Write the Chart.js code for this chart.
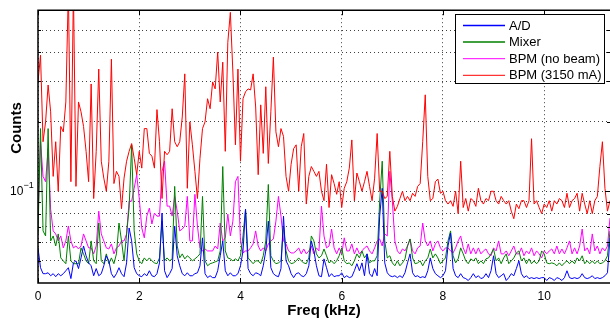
<!DOCTYPE html>
<html><head><meta charset="utf-8">
<script src="https://cdn.jsdelivr.net/npm/chart.js@4.4.1/dist/chart.umd.min.js"></script>
<style>html,body{margin:0;padding:0;background:#fff}#c{display:block}</style>
</head><body>
<canvas id="c" width="610" height="321"></canvas>
<script>
const freqKHz = [
0,0.05,0.1,0.15,0.2,0.25,0.3,0.35,0.4,0.45,
0.5,0.55,0.6,0.65,0.7,0.75,0.8,0.85,0.9,0.95,
1,1.05,1.1,1.15,1.2,1.25,1.3,1.35,1.4,1.45,
1.5,1.55,1.6,1.65,1.7,1.75,1.8,1.85,1.9,1.95,
2,2.05,2.1,2.15,2.2,2.25,2.3,2.35,2.4,2.45,
2.5,2.55,2.6,2.65,2.7,2.75,2.8,2.85,2.9,2.95,
3,3.05,3.1,3.15,3.2,3.25,3.3,3.35,3.4,3.45,
3.5,3.55,3.6,3.65,3.7,3.75,3.8,3.85,3.9,3.95,
4,4.05,4.1,4.15,4.2,4.25,4.3,4.35,4.4,4.45,
4.5,4.55,4.6,4.65,4.7,4.75,4.8,4.85,4.9,4.95,
5,5.05,5.1,5.15,5.2,5.25,5.3,5.35,5.4,5.45,
5.5,5.55,5.6,5.65,5.7,5.75,5.8,5.85,5.9,5.95,
6,6.05,6.1,6.15,6.2,6.25,6.3,6.35,6.4,6.45,
6.5,6.55,6.6,6.65,6.7,6.75,6.8,6.85,6.9,6.95,
7,7.05,7.1,7.15,7.2,7.25,7.3,7.35,7.4,7.45,
7.5,7.55,7.6,7.65,7.7,7.75,7.8,7.85,7.9,7.95,
8,8.05,8.1,8.15,8.2,8.25,8.3,8.35,8.4,8.45,
8.5,8.55,8.6,8.65,8.7,8.75,8.8,8.85,8.9,8.95,
9,9.05,9.1,9.15,9.2,9.25,9.3,9.35,9.4,9.45,
9.5,9.55,9.6,9.65,9.7,9.75,9.8,9.85,9.9,9.95,
10,10.05,10.1,10.15,10.2,10.25,10.3,10.35,10.4,10.45,
10.5,10.55,10.6,10.65,10.7,10.75,10.8,10.85,10.9,10.95,
11,11.05,11.1,11.15,11.2,11.25,11.3
];

const adCounts = [
0.0568,0.0466,0.0439,0.0439,0.0443,0.043,0.0439,0.0426,0.0439,0.043,
0.0439,0.0452,0.0466,0.0418,0.0489,0.0499,0.0462,0.0514,0.0579,0.0525,
0.0489,0.0475,0.043,0.0462,0.043,0.0439,0.0475,0.0525,0.0499,0.0439,
0.0422,0.0439,0.0466,0.0439,0.0426,0.0489,0.0693,0.0609,0.0466,0.0439,
0.043,0.0426,0.0439,0.043,0.0452,0.043,0.0426,0.0439,0.0489,0.0804,
0.0452,0.0422,0.0439,0.0462,0.0707,0.0525,0.0475,0.0439,0.043,0.0443,
0.043,0.043,0.0439,0.0443,0.0475,0.0628,0.0439,0.0422,0.043,0.0422,
0.0422,0.0452,0.0525,0.0609,0.0452,0.043,0.0443,0.043,0.043,0.0439,
0.0475,0.0551,0.0836,0.0462,0.0439,0.043,0.0443,0.0439,0.043,0.0475,
0.0551,0.0742,0.0466,0.0439,0.043,0.0426,0.0462,0.078,0.0499,0.0475,
0.0439,0.0422,0.0439,0.0443,0.043,0.0426,0.0439,0.0475,0.0609,0.0551,
0.0475,0.043,0.0426,0.0509,0.0466,0.0426,0.0439,0.0426,0.043,0.043,
0.0443,0.0422,0.043,0.0422,0.0426,0.0452,0.0485,0.0452,0.0489,0.043,
0.0535,0.0439,0.0426,0.0462,0.043,0.078,0.103,0.0489,0.0443,0.043,
0.0426,0.043,0.0422,0.043,0.0422,0.0443,0.0489,0.0535,0.0443,0.0426,
0.043,0.0422,0.0426,0.0422,0.0452,0.0514,0.0462,0.0439,0.043,0.0422,
0.043,0.0452,0.0579,0.0659,0.0462,0.043,0.0422,0.0439,0.0422,0.0418,
0.041,0.0422,0.0439,0.0422,0.043,0.0418,0.0422,0.0439,0.0422,0.0452,
0.0525,0.0439,0.0422,0.043,0.0439,0.041,0.0422,0.0439,0.043,0.0462,
0.0499,0.0439,0.0422,0.043,0.0418,0.0422,0.0418,0.0422,0.0418,0.0422,
0.0422,0.041,0.0422,0.0418,0.041,0.0422,0.0418,0.041,0.0422,0.0452,
0.0422,0.0418,0.0422,0.0418,0.0422,0.0439,0.0422,0.0418,0.0422,0.043,
0.0418,0.0422,0.0418,0.0422,0.043,0.0443,0.0628
];

const mixerCounts = [
0.0653,0.187,0.0673,0.064,0.187,0.0609,0.064,0.0579,0.0653,0.0514,
0.0499,0.0485,0.064,0.0499,0.0485,0.0485,0.0485,0.0568,0.0535,0.0499,
0.0485,0.0609,0.0499,0.0485,0.0728,0.0499,0.0485,0.0535,0.0485,0.0514,
0.0485,0.0535,0.0728,0.0609,0.0499,0.0653,0.0845,0.159,0.0673,0.0535,
0.0499,0.0485,0.0514,0.0499,0.0514,0.0499,0.0489,0.0485,0.0514,0.0742,
0.0499,0.0514,0.0499,0.0509,0.105,0.0579,0.0514,0.0535,0.0509,0.0525,
0.0514,0.0499,0.0509,0.052,0.0535,0.095,0.0499,0.0475,0.0485,0.0489,
0.0494,0.0499,0.0551,0.128,0.0551,0.0514,0.0509,0.0499,0.0509,0.0499,
0.0525,0.064,0.0836,0.0514,0.0499,0.0485,0.0499,0.0499,0.0485,0.0525,
0.0609,0.107,0.0525,0.0499,0.0485,0.0489,0.0499,0.0707,0.0551,0.0499,
0.0485,0.0489,0.0499,0.0514,0.0499,0.0489,0.0485,0.0514,0.064,0.0609,
0.0535,0.0514,0.0525,0.0562,0.0525,0.0489,0.0499,0.0485,0.0499,0.0525,
0.0568,0.0499,0.0485,0.0489,0.0475,0.0499,0.0535,0.0514,0.0551,0.0514,
0.0535,0.0489,0.0499,0.0499,0.0525,0.0906,0.135,0.0609,0.0514,0.0525,
0.0489,0.0475,0.0499,0.0475,0.0489,0.0509,0.0579,0.0621,0.0514,0.0485,
0.0489,0.0499,0.0475,0.0499,0.0514,0.0562,0.0514,0.0535,0.0514,0.0485,
0.0499,0.0514,0.0609,0.0673,0.0525,0.0489,0.0509,0.0568,0.0535,0.0499,
0.0485,0.0509,0.0499,0.0514,0.0485,0.0499,0.0485,0.0509,0.0514,0.0535,
0.0562,0.0499,0.0514,0.0485,0.0514,0.0535,0.0485,0.0499,0.0514,0.054,
0.0551,0.0499,0.0514,0.0485,0.0509,0.0485,0.0499,0.0485,0.0499,0.0551,
0.0535,0.0489,0.0485,0.0489,0.0485,0.0475,0.0489,0.0475,0.0489,0.0499,
0.0485,0.0499,0.0485,0.0514,0.0499,0.0525,0.0485,0.0499,0.0485,0.0499,
0.0485,0.0499,0.0485,0.0489,0.0499,0.0525,0.0673
];

const bpmNoBeamCounts = [
0.078,0.164,0.116,0.110,0.153,0.0836,0.0673,0.0653,0.0609,0.064,
0.0568,0.0609,0.0707,0.0609,0.0568,0.0579,0.0562,0.0579,0.0653,0.0609,
0.0568,0.0568,0.0535,0.0579,0.082,0.0653,0.0609,0.0568,0.0562,0.0591,
0.0535,0.0568,0.0579,0.0609,0.0609,0.0653,0.0906,0.0906,0.103,0.118,
0.093,0.0693,0.0628,0.078,0.0845,0.0721,0.0804,0.078,0.078,0.122,
0.135,0.0862,0.0862,0.078,0.095,0.082,0.0673,0.0686,0.0707,0.095,
0.0609,0.0609,0.097,0.0707,0.0568,0.0551,0.0562,0.0551,0.0551,0.0551,
0.0579,0.0562,0.0728,0.0609,0.0628,0.0796,0.064,0.0742,0.110,0.116,
0.0609,0.054,0.0551,0.0551,0.0568,0.0591,0.0673,0.0579,0.0551,0.0568,
0.0551,0.0591,0.0609,0.0621,0.0742,0.095,0.078,0.0609,0.0591,0.0551,
0.054,0.054,0.0551,0.0568,0.0535,0.0562,0.0535,0.0551,0.0579,0.0535,
0.0568,0.0551,0.0862,0.064,0.0568,0.0579,0.0686,0.0568,0.0535,0.0568,
0.0535,0.0628,0.0551,0.0551,0.0591,0.0535,0.0568,0.0535,0.0551,0.0568,
0.0579,0.0551,0.0535,0.0568,0.0609,0.0621,0.0579,0.0653,0.064,0.122,
0.0906,0.0609,0.0551,0.0535,0.0562,0.0551,0.0579,0.0621,0.0551,0.0535,
0.0568,0.0579,0.0728,0.0609,0.0579,0.0609,0.0551,0.0591,0.0609,0.0568,
0.0551,0.0568,0.0568,0.0551,0.054,0.0568,0.0609,0.064,0.0568,0.0535,
0.0591,0.0535,0.0568,0.0535,0.0568,0.0535,0.0551,0.0562,0.0535,0.0525,
0.0568,0.0551,0.0609,0.0535,0.0535,0.0551,0.0525,0.0551,0.0579,0.0535,
0.0535,0.0568,0.0525,0.0551,0.0535,0.0568,0.0525,0.0551,0.0535,0.0514,
0.0551,0.0535,0.0551,0.0562,0.0535,0.0579,0.0535,0.0562,0.0535,0.0568,
0.0609,0.0535,0.0568,0.0535,0.0579,0.0686,0.0551,0.0568,0.0535,0.0653,
0.0551,0.0579,0.0535,0.0568,0.0551,0.0579,0.0765
];

const bpm3150Counts = [
0.298,0.389,0.164,0.200,0.289,0.221,0.116,0.164,0.100,0.191,
0.181,0.244,0.75,0.110,0.75,0.105,0.244,0.221,0.191,0.149,
0.110,0.292,0.093,0.149,0.339,0.135,0.114,0.100,0.135,0.374,
0.108,0.122,0.116,0.084,0.114,0.135,0.149,0.161,0.139,0.118,
0.149,0.126,0.187,0.187,0.146,0.142,0.126,0.226,0.164,0.093,
0.149,0.144,0.149,0.228,0.164,0.156,0.164,0.210,0.323,0.103,
0.200,0.159,0.122,0.093,0.139,0.187,0.200,0.252,0.228,0.298,
0.278,0.401,0.244,0.363,0.149,0.443,0.597,0.329,0.159,0.339,
0.135,0.252,0.270,0.278,0.275,0.323,0.232,0.118,0.237,0.146,
0.284,0.132,0.221,0.382,0.181,0.156,0.187,0.173,0.116,0.100,
0.131,0.153,0.159,0.100,0.156,0.178,0.088,0.116,0.128,0.122,
0.116,0.122,0.100,0.091,0.131,0.085,0.118,0.108,0.097,0.110,
0.085,0.103,0.110,0.126,0.167,0.091,0.120,0.110,0.100,0.110,
0.122,0.105,0.091,0.114,0.178,0.100,0.100,0.093,0.095,0.149,
0.095,0.082,0.086,0.093,0.100,0.091,0.095,0.091,0.098,0.095,
0.105,0.108,0.164,0.262,0.116,0.091,0.093,0.110,0.113,0.098,
0.100,0.091,0.088,0.091,0.086,0.100,0.080,0.135,0.085,0.093,
0.082,0.093,0.091,0.086,0.103,0.091,0.088,0.093,0.091,0.100,
0.100,0.091,0.088,0.095,0.091,0.088,0.091,0.082,0.076,0.088,
0.084,0.091,0.091,0.085,0.091,0.169,0.088,0.091,0.085,0.080,
0.088,0.085,0.091,0.082,0.091,0.088,0.093,0.091,0.085,0.098,
0.085,0.091,0.093,0.098,0.082,0.098,0.088,0.080,0.091,0.080,
0.091,0.095,0.128,0.164,0.103,0.082,0.091
];

const seriesNames = ['A/D', 'Mixer', 'BPM (no beam)', 'BPM (3150 mA)'];
const xTickValues = [0, 2, 4, 6, 8, 10];
const yGridValues = [0.05, 0.06, 0.07, 0.08, 0.09, 0.1, 0.2, 0.3, 0.4, 0.5];
const yLabelValue = 0.1;
const yLabelBase = '10';
const yLabelExp = '\u22121';
const xAxisTitle = 'Freq (kHz)';
const yAxisTitle = 'Counts';

const FONT = "'Liberation Sans', Arial, Helvetica, sans-serif";
Chart.defaults.font.family = FONT;
Chart.defaults.color = '#000';

function pts(vals) { return freqKHz.map((f, i) => ({ x: f, y: vals[i] })); }

const colors = ['#0000ff', '#008000', '#ff00ff', '#ff0000'];
const seriesVals = [adCounts, mixerCounts, bpmNoBeamCounts, bpm3150Counts];
const drawOrder = [2, 3, 4, 1];

const matlabPlugin = {
  id: 'matlabFrame',
  afterDatasetsDraw(chart) {
    const { ctx, chartArea: a, scales: { x, y } } = chart;
    ctx.save();
    ctx.strokeStyle = '#000';
    ctx.lineWidth = 1;
    ctx.beginPath();
    xTickValues.forEach(v => {
      const px = Math.round(x.getPixelForValue(v)) + 0.5;
      ctx.moveTo(px, a.bottom); ctx.lineTo(px, a.bottom - 5);
      ctx.moveTo(px, a.top); ctx.lineTo(px, a.top + 5);
    });
    yGridValues.forEach(v => {
      const py = Math.round(y.getPixelForValue(v)) + 0.5;
      const len = v === yLabelValue ? 5 : 3;
      ctx.moveTo(a.left, py); ctx.lineTo(a.left + len, py);
      ctx.moveTo(a.right, py); ctx.lineTo(a.right - len, py);
    });
    ctx.stroke();
    ctx.lineWidth = 1.5;
    ctx.beginPath();
    ctx.moveTo(a.right, a.top); ctx.lineTo(a.left, a.top);
    ctx.lineTo(a.left, a.bottom); ctx.lineTo(a.right, a.bottom);
    ctx.stroke();
    ctx.restore();
  },
  afterDraw(chart) {
    const { ctx, chartArea: a, scales: { y } } = chart;
    ctx.save();
    // legend
    const lx = 455.5, ly = 14.5, lw = 149, lh = 69;
    ctx.fillStyle = '#fff';
    ctx.fillRect(lx, ly, lw, lh);
    ctx.strokeStyle = '#000'; ctx.lineWidth = 1;
    ctx.strokeRect(lx, ly, lw, lh);
    ctx.font = '13px ' + FONT;
    ctx.textBaseline = 'middle';
    ctx.textAlign = 'left';
    seriesNames.forEach((n, i) => {
      const ry = 25.5 + i * 16.6;
      ctx.strokeStyle = colors[i];
      ctx.lineWidth = i < 2 ? 1.5 : 1;
      ctx.beginPath(); ctx.moveTo(463, ry); ctx.lineTo(505, ry); ctx.stroke();
      ctx.fillStyle = '#000';
      ctx.fillText(n, 509, ry + 0.5);
    });
    // y tick label 10^-1
    const py = y.getPixelForValue(yLabelValue);
    ctx.font = '12px ' + FONT;
    ctx.textAlign = 'left';
    ctx.fillText(yLabelBase, 10, py);
    ctx.font = '9px ' + FONT;
    ctx.fillText(yLabelExp, 23.5, py - 6);
    // axis titles
    ctx.font = 'bold 15px ' + FONT;
    ctx.textAlign = 'center';
    ctx.fillText(xAxisTitle, (a.left + a.right) / 2, 311);
    ctx.translate(17, 128);
    ctx.rotate(-Math.PI / 2);
    ctx.fillText(yAxisTitle, 0, 0);
    ctx.restore();
  }
};

new Chart(document.getElementById('c'), {
  type: 'line',
  data: {
    datasets: seriesNames.map((n, i) => ({
      label: n,
      data: pts(seriesVals[i]),
      borderColor: colors[i],
      borderWidth: 1,
      pointRadius: 0,
      tension: 0,
      fill: false,
      order: drawOrder[i]
    }))
  },
  options: {
    responsive: false,
    animation: false,
    events: [],
    layout: { padding: { top: 8, left: 0, right: 0, bottom: 0 } },
    plugins: { legend: { display: false }, tooltip: { enabled: false } },
    scales: {
      x: {
        type: 'linear', min: 0, max: 11.3,
        afterBuildTicks: s => { s.ticks = xTickValues.map(v => ({ value: v })); },
        afterFit: s => { s.height = 38; },
        ticks: { font: { size: 12 }, color: '#000', padding: 6, maxRotation: 0, callback: v => String(v) },
        grid: { color: 'rgba(0,0,0,0.75)', lineWidth: 1, drawTicks: false },
        border: { display: false, dash: [1, 3] }
      },
      y: {
        type: 'logarithmic', min: 0.04, max: 0.61,
        afterBuildTicks: s => { s.ticks = yGridValues.map(v => ({ value: v })); },
        afterFit: s => { s.width = 38; },
        ticks: { callback: () => '' },
        grid: { color: 'rgba(0,0,0,0.75)', lineWidth: 1, drawTicks: false },
        border: { display: false, dash: [1, 3] }
      }
    }
  },
  plugins: [matlabPlugin]
});
</script>
</body></html>
